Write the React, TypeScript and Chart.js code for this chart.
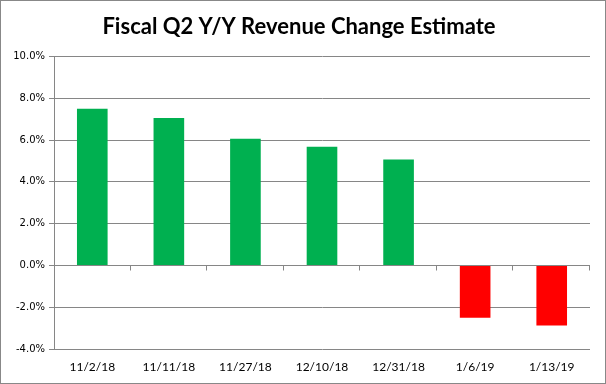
import React, { useEffect, useRef } from "react";
import { Chart, registerables } from "chart.js";

Chart.register(...registerables);

const categories = ["11/2/18", "11/11/18", "11/27/18", "12/10/18", "12/31/18", "1/6/19", "1/13/19"];
const changeValues = [7.5, 7.05, 6.06, 5.68, 5.07, -2.5, -2.88];
const titleText = "Fiscal Q2 Y/Y Revenue Change Estimate";
const yMin = -4;
const yMax = 10;
const yStep = 2;

const GRID = "#868686";

const framePlugin = {
  id: "frame",
  afterDraw(chart: any) {
    const ctx = chart.ctx;
    const x = chart.scales.x;
    const y = chart.scales.y;
    const zeroY = Math.round(y.getPixelForValue(0)) + 0.5;
    ctx.save();
    ctx.strokeStyle = GRID;
    ctx.lineWidth = 1;
    ctx.beginPath();
    ctx.moveTo(x.left, zeroY);
    ctx.lineTo(x.right, zeroY);
    const n = categories.length;
    const w = (x.right - x.left) / n;
    for (let i = 1; i <= n; i++) {
      const px = Math.round(x.left + i * w) - 0.5;
      ctx.moveTo(px, zeroY);
      ctx.lineTo(px, zeroY + 5);
    }
    ctx.stroke();
    ctx.strokeStyle = "#888888";
    ctx.strokeRect(0.5, 0.5, chart.width - 1, chart.height - 1);
    ctx.restore();
  },
};

export default function App() {
  const ref = useRef<HTMLCanvasElement | null>(null);
  useEffect(() => {
    document.body.style.margin = "0";
    const chart = new Chart(ref.current as HTMLCanvasElement, {
      type: "bar",
      data: {
        labels: categories,
        datasets: [
          {
            data: changeValues,
            backgroundColor: changeValues.map((v) => (v >= 0 ? "#00B050" : "#FF0000")),
            barPercentage: 0.4,
            categoryPercentage: 1,
          },
        ],
      },
      options: {
        animation: false,
        responsive: false,
        layout: { padding: { left: 8, right: 16, top: 0, bottom: 0 } },
        plugins: {
          legend: { display: false },
          tooltip: { enabled: false },
          title: {
            display: true,
            text: titleText,
            color: "#000000",
            font: { family: "Lato", size: 22, weight: "bold" },
            padding: { top: 14, bottom: 16 },
          },
        },
        scales: {
          x: {
            grid: { display: false, drawTicks: false },
            border: { display: false },
            ticks: {
              color: "#000000",
              font: { family: "Lato", size: 12 },
              padding: 11,
              maxRotation: 0,
            },
            afterFit: (s: any) => {
              s.height = 35;
            },
          },
          y: {
            min: yMin,
            max: yMax,
            ticks: {
              stepSize: yStep,
              color: "#000000",
              font: { family: "DejaVu Sans", size: 10 },
              padding: 4,
              callback: (v: any) => Number(v).toFixed(1) + "%",
            },
            grid: { color: GRID, tickLength: 5 },
            border: { display: true, color: GRID },
            afterFit: (s: any) => {
              s.width = 46;
            },
          },
        },
      },
      plugins: [framePlugin],
    });
    return () => chart.destroy();
  }, []);
  return <canvas ref={ref} width={606} height={384} style={{ display: "block" }} />;
}
